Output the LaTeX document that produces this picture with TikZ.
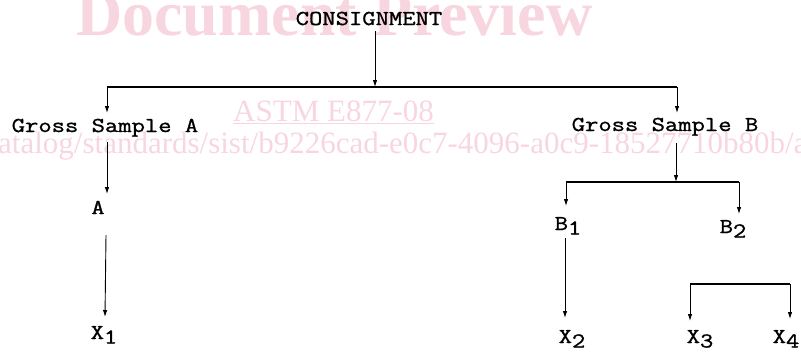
\documentclass[tikz,border=0pt]{standalone}
\usepackage{fontspec}
\setmainfont{Liberation Serif}
\newfontfamily\courf[FakeStretch=1.22,FakeBold=1.2]{Latin Modern Mono}
\usetikzlibrary{arrows.meta}
\definecolor{wm}{RGB}{248,214,224}
\newcommand\lowd[1]{\raisebox{-4.5bp}{#1}}
\tikzset{
  lbl/.style={font=\courf\fontsize{21.2bp}{24bp}\selectfont, inner sep=0pt, anchor=base},
  thin/.style={line width=0.9bp, -{Latex[length=7bp,width=4.5bp]}},
  bar/.style={line width=2bp},
  drop/.style={line width=0.9bp, -{Latex[length=7bp,width=4.5bp]}},
  wmark/.style={text=wm, inner sep=0pt, anchor=base west},
}
\begin{document}
\begin{tikzpicture}[x=1bp,y=-1bp]
\useasboundingbox (0,0) rectangle (801,353);
\clip (0,0) rectangle (801,353);
% watermark
\node[wmark, font=\bfseries\fontsize{64bp}{66bp}\selectfont] (wm1) at (76,35) {Document Preview};
\node[wmark, font=\fontsize{31bp}{33bp}\selectfont] (wm2) at (233,121) {\underline{ASTM E877-08}};
\node[wmark, font=\fontsize{31bp}{33bp}\selectfont] (wm3) at (-2,153) {atalog/standards/sist/b9226cad-e0c7-4096-a0c9-18527710b80b/astm-e877-08};
% labels
\node[lbl] (cons) at (369,25) {CONSIGNMENT};
\node[lbl] (gsa) at (105,132) {Gross Sample A};
\node[lbl] (gsb) at (665,131) {Gross Sample B};
\node[lbl] (a) at (98,214) {A};
\node[lbl] (x1) at (104,339) {X\lowd{1}};
\node[lbl] (b1) at (568,230) {B\lowd{1}};
\node[lbl] (b2) at (733,233) {B\lowd{2}};
\node[lbl] (x2) at (572,343) {X\lowd{2}};
\node[lbl] (x3) at (700,343) {X\lowd{3}};
\node[lbl] (x4) at (786,343) {X\lowd{4}};
% junction coordinates
\coordinate (c0) at (375,31);
\coordinate (c1) at (375,87);
\coordinate (bl) at (107,87);
\coordinate (br) at (677,87);
\coordinate (ga0) at (107,142);
\coordinate (a0) at (106,235);
\coordinate (gb0) at (676,143);
\coordinate (gb1) at (676,182);
\coordinate (bbl) at (566,182);
\coordinate (bbr) at (739,182);
\coordinate (b10) at (565,238);
\coordinate (xl) at (690,284);
\coordinate (xr) at (790,284);
% connectors
\draw[thin] (c0) -- (c1);
\draw[bar] (bl) -- (br);
\draw[drop] (bl) -- (107,113);
\draw[drop] (br) -- (677,113);
\draw[thin] (ga0) -- (107,194);
\draw[thin] (a0) -- (105,317);
\draw[thin] (gb0) -- (gb1);
\draw[bar] (bbl) -- (bbr);
\draw[drop] (bbl) -- (566,206);
\draw[drop] (bbr) -- (739,214);
\draw[thin] (b10) -- (565,318);
\draw[bar] (xl) -- (xr);
\draw[drop] (xl) -- (690,321);
\draw[drop] (xr) -- (790,319);
\end{tikzpicture}
\end{document}
